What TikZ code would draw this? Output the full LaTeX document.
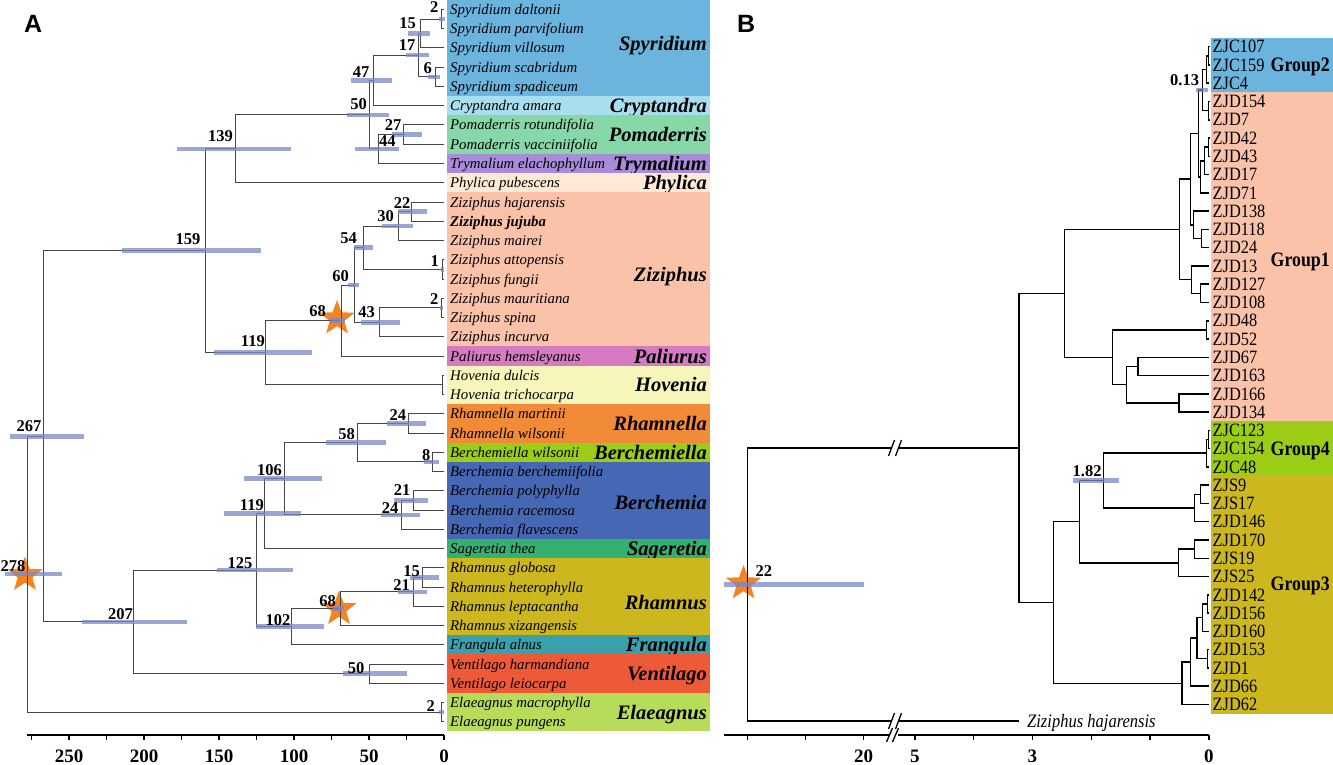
\documentclass[tikz,border=0pt]{standalone}
\usepackage{fontspec}
\setmainfont{Liberation Serif}
\newfontfamily\panelfont{Liberation Sans}
\newfontfamily\condserif[FakeStretch=0.87]{Liberation Serif}
\usetikzlibrary{shapes.geometric}
\definecolor{cSpy}{RGB}{107,180,222}
\definecolor{cCry}{RGB}{168,222,238}
\definecolor{cPom}{RGB}{134,216,168}
\definecolor{cTry}{RGB}{168,140,218}
\definecolor{cPhy}{RGB}{253,233,214}
\definecolor{cZiz}{RGB}{250,194,168}
\definecolor{cPal}{RGB}{214,122,196}
\definecolor{cHov}{RGB}{246,245,186}
\definecolor{cRha}{RGB}{241,139,55}
\definecolor{cBeb}{RGB}{155,204,22}
\definecolor{cBer}{RGB}{70,104,180}
\definecolor{cSag}{RGB}{52,177,112}
\definecolor{cRhm}{RGB}{204,184,30}
\definecolor{cFra}{RGB}{57,161,174}
\definecolor{cVen}{RGB}{238,90,55}
\definecolor{cEla}{RGB}{182,220,90}
\definecolor{barc}{RGB}{120,136,200}
\definecolor{starc}{RGB}{245,132,32}
\newcommand\mkclade[3]{\draw[br] (#1) |- (#2) (#1) |- (#3);}
\newcommand\mkcladeB[3]{\draw[brB] (#1) |- (#2) (#1) |- (#3);}
\begin{document}
\begin{tikzpicture}[x=1pt,y=-1pt,
  br/.style={draw=black!72,line width=1pt},
  brB/.style={draw=black,line width=1.5pt},
  hpd/.style={draw=barc,line width=4.5pt,opacity=0.75},
  sp/.style={anchor=base west,inner sep=0,font=\fontsize{14.8}{16}\selectfont\itshape,yshift=-5pt},
  gen/.style={anchor=base east,inner sep=0,font=\fontsize{20.5}{22}\selectfont\bfseries\itshape,yshift=-7pt},
  age/.style={anchor=base east,inner sep=0,font=\fontsize{16.5}{17}\selectfont\bfseries},
  tipB/.style={anchor=base west,inner sep=0,font=\condserif\fontsize{18.8}{19}\selectfont,yshift=-6.2pt},
  grp/.style={anchor=base east,inner sep=0,font=\condserif\fontsize{20.5}{21}\selectfont\bfseries,yshift=-6.8pt},
  axl/.style={anchor=base,inner sep=0,font=\fontsize{19}{20}\selectfont\bfseries},
  axis/.style={draw=black,line width=1.8pt},
  tick/.style={draw=black,line width=1.4pt},
  starnode/.style={star,star points=5,star point ratio=2.4,minimum size=37pt,inner sep=0,fill=starc,draw=none},
  panel/.style={anchor=base west,inner sep=0,font=\fontsize{25}{26}\selectfont\panelfont\bfseries}]
\useasboundingbox (0,0) rectangle (1333,765);

% ---------- bands panel A
\foreach \a/\b/\c/\g/\d in {1/5/cSpy/Spyridium/-4,6/6/cCry/Cryptandra/0,7/8/cPom/Pomaderris/0,9/9/cTry/Trymalium/0,10/10/cPhy/Phylica/0,11/18/cZiz/Ziziphus/5,19/19/cPal/Paliurus/0,20/21/cHov/Hovenia/0,22/23/cRha/Rhamnella/0,24/24/cBeb/Berchemiella/0,25/28/cBer/Berchemia/2,29/29/cSag/Sageretia/0,30/33/cRhm/Rhamnus/6,34/34/cFra/Frangula/0,35/36/cVen/Ventilago/0,37/38/cEla/Elaeagnus/0}{
  \fill[\c] (447,{9.5+(\a-1.5)*19.25}) rectangle (710,{9.5+(\b-0.5)*19.25});
  \node[gen] (g-\g) at (707,{9.5+((\a+\b)/2-1)*19.25+\d}) {\g};
}
% ---------- bands panel B
\fill[cSpy] (1211,37.6) rectangle (1333,92.4);
\fill[cZiz] (1211,92.4) rectangle (1333,421.2);
\fill[cBeb] (1211,421.2) rectangle (1333,476.0);
\fill[cRhm] (1211,476.0) rectangle (1333,713.6);
\node[grp] (grp2) at (1330,65) {Group2};
\node[grp] (grp1) at (1330,260) {Group1};
\node[grp] (grp4) at (1330,448.6) {Group4};
\node[grp] (grp3) at (1330,584) {Group3};

% ---------- tips panel A
\foreach \i/\s in {1/Spyridium daltonii,2/Spyridium parvifolium,3/Spyridium villosum,4/Spyridium scabridum,5/Spyridium spadiceum,6/Cryptandra amara,7/Pomaderris rotundifolia,8/Pomaderris vacciniifolia,9/Trymalium elachophyllum,10/Phylica pubescens,11/Ziziphus hajarensis,12/\textbf{Ziziphus jujuba},13/Ziziphus mairei,14/Ziziphus attopensis,15/Ziziphus fungii,16/Ziziphus mauritiana,17/Ziziphus spina,18/Ziziphus incurva,19/Paliurus hemsleyanus,20/Hovenia dulcis,21/Hovenia trichocarpa,22/Rhamnella martinii,23/Rhamnella wilsonii,24/Berchemiella wilsonii,25/Berchemia berchemiifolia,26/Berchemia polyphylla,27/Berchemia racemosa,28/Berchemia flavescens,29/Sageretia thea,30/Rhamnus globosa,31/Rhamnus heterophylla,32/Rhamnus leptacantha,33/Rhamnus xizangensis,34/Frangula alnus,35/Ventilago harmandiana,36/Ventilago leiocarpa,37/Elaeagnus macrophylla,38/Elaeagnus pungens}{
  \coordinate (a\i) at (444,{9.5+(\i-1)*19.25});
  \node[sp] (s\i) at (450,{9.5+(\i-1)*19.25}) {\s};
}
% ---------- tips panel B
\foreach \i/\s in {1/ZJC107,2/ZJC159,3/ZJC4,4/ZJD154,5/ZJD7,6/ZJD42,7/ZJD43,8/ZJD17,9/ZJD71,10/ZJD138,11/ZJD118,12/ZJD24,13/ZJD13,14/ZJD127,15/ZJD108,16/ZJD48,17/ZJD52,18/ZJD67,19/ZJD163,20/ZJD166,21/ZJD134,22/ZJC123,23/ZJC154,24/ZJC48,25/ZJS9,26/ZJS17,27/ZJD146,28/ZJD170,29/ZJS19,30/ZJS25,31/ZJD142,32/ZJD156,33/ZJD160,34/ZJD153,35/ZJD1,36/ZJD66,37/ZJD62}{
  \coordinate (b\i) at (1209,{46.7+(\i-1)*18.27});
  \node[tipB] (sb\i) at (1212.5,{46.7+(\i-1)*18.27}) {\s};
}
\coordinate (bhaj) at (1018.9,721);
\node[tipB,font=\condserif\fontsize{19}{19}\selectfont\itshape] (sbhaj) at (1027,721) {Ziziphus hajarensis};

% ---------- internal nodes panel A
\coordinate (n2a) at (441,19.1);
\coordinate (n15a) at (420,33.6);
\coordinate (n6) at (435,76.9);
\coordinate (n17) at (418,55.2);
\coordinate (n47) at (373.5,80.5);
\coordinate (n27) at (403.5,134.6);
\coordinate (n44) at (378,149.0);
\coordinate (n50a) at (369,114.8);
\coordinate (n139) at (235.5,148.8);
\coordinate (n22) at (411,211.6);
\coordinate (n30) at (398,226.0);
\coordinate (n1) at (442.5,269.4);
\coordinate (n54) at (363,247.7);
\coordinate (n2z) at (441,307.9);
\coordinate (n43) at (379.5,322.3);
\coordinate (n60) at (354,285.0);
\coordinate (n68z) at (341,320.5);
\coordinate (nHov) at (442.5,384.9);
\coordinate (n119a) at (265.5,352.7);
\coordinate (n159) at (205,250.7);
\coordinate (n24a) at (408,423.4);
\coordinate (n8) at (432.5,461.9);
\coordinate (n58) at (357.5,442.6);
\coordinate (n21b) at (413,500.4);
\coordinate (n24b) at (401,514.8);
\coordinate (n106) at (284.5,478.7);
\coordinate (n119b) at (264.5,513.6);
\coordinate (n15r) at (422,577.4);
\coordinate (n21r) at (413,591.8);
\coordinate (n68r) at (340,608.7);
\coordinate (n102) at (291.5,626.7);
\coordinate (n125) at (256.5,570.2);
\coordinate (n50v) at (369,673.6);
\coordinate (n207) at (133.5,621.9);
\coordinate (n267) at (43,436.3);
\coordinate (nE) at (441,712.1);
\coordinate (n278) at (27,574.2);

% ---------- internal nodes panel B
\coordinate (na) at (1208.7,55.8);
\coordinate (nb) at (1206.7,69.5);
\coordinate (nc) at (1208.5,110.6);
\coordinate (nd) at (1202.7,90.1);
\coordinate (ne) at (1208.7,147.2);
\coordinate (nf) at (1204.5,160.9);
\coordinate (ng) at (1200.7,176.9);
\coordinate (nh) at (1198.3,133.5);
\coordinate (ni) at (1201.7,238.5);
\coordinate (nj) at (1193.3,224.8);
\coordinate (nk) at (1190.5,179.2);
\coordinate (nl) at (1200.6,293.3);
\coordinate (nm) at (1191.7,279.6);
\coordinate (NA) at (1179.6,229.4);
\coordinate (n48) at (1206.6,329.9);
\coordinate (ND) at (1138,366.4);
\coordinate (NE) at (1179.2,403.0);
\coordinate (NC) at (1126.7,384.7);
\coordinate (NB) at (1112.6,357.3);
\coordinate (G12) at (1064.5,293.4);
\coordinate (G4a) at (1208.7,439.5);
\coordinate (G4) at (1206.6,453.2);
\coordinate (ns) at (1200.6,494.3);
\coordinate (NJ) at (1194.5,508.0);
\coordinate (NH) at (1103.7,480.6);
\coordinate (nt) at (1194.5,549.1);
\coordinate (NI) at (1178.4,562.8);
\coordinate (NF) at (1079.5,521.7);
\coordinate (m31) at (1207.5,603.9);
\coordinate (m32) at (1202.7,617.6);
\coordinate (m33) at (1207.5,658.7);
\coordinate (m34) at (1197,638.2);
\coordinate (m35) at (1190.7,662.2);
\coordinate (NG) at (1182,683.3);
\coordinate (G34) at (1053.6,602.5);
\coordinate (Big) at (1018.9,448);
\coordinate (Root) at (747.6,584.3);
\coordinate (brk1L) at (891.5,448);
\coordinate (brk1R) at (898.5,448);
\coordinate (brk2L) at (891.5,721);
\coordinate (brk2R) at (898.5,721);

% ---------- stars
\node[starnode] (st278) at (25,575) {};
\node[starnode] (st68z) at (337,318.5) {};
\node[starnode] (st68r) at (339,609) {};
\node[starnode] (st22) at (743.6,583.5) {};

% ---------- branches panel A
\mkclade{n2a}{a1}{a2}
\mkclade{n15a}{n2a}{a3}
\mkclade{n6}{a4}{a5}
\mkclade{n17}{n15a}{n6}
\mkclade{n47}{n17}{a6}
\mkclade{n27}{a7}{a8}
\mkclade{n44}{n27}{a9}
\mkclade{n50a}{n47}{n44}
\mkclade{n139}{n50a}{a10}
\mkclade{n22}{a11}{a12}
\mkclade{n30}{n22}{a13}
\mkclade{n1}{a14}{a15}
\mkclade{n54}{n30}{n1}
\mkclade{n2z}{a16}{a17}
\mkclade{n43}{n2z}{a18}
\mkclade{n60}{n54}{n43}
\mkclade{n68z}{n60}{a19}
\mkclade{nHov}{a20}{a21}
\mkclade{n119a}{n68z}{nHov}
\mkclade{n159}{n139}{n119a}
\mkclade{n24a}{a22}{a23}
\mkclade{n8}{a24}{a25}
\mkclade{n58}{n24a}{n8}
\mkclade{n21b}{a26}{a27}
\mkclade{n24b}{n21b}{a28}
\mkclade{n106}{n58}{n24b}
\mkclade{n119b}{n106}{a29}
\mkclade{n15r}{a30}{a31}
\mkclade{n21r}{n15r}{a32}
\mkclade{n68r}{n21r}{a33}
\mkclade{n102}{n68r}{a34}
\mkclade{n125}{n119b}{n102}
\mkclade{n50v}{a35}{a36}
\mkclade{n207}{n125}{n50v}
\mkclade{n267}{n159}{n207}
\mkclade{nE}{a37}{a38}
\mkclade{n278}{n267}{nE}

% ---------- branches panel B
\mkcladeB{na}{b1}{b2}
\mkcladeB{nb}{na}{b3}
\mkcladeB{nc}{b4}{b5}
\mkcladeB{nd}{nb}{nc}
\mkcladeB{ne}{b6}{b7}
\mkcladeB{nf}{ne}{b8}
\mkcladeB{ng}{nf}{b9}
\mkcladeB{nh}{nd}{ng}
\mkcladeB{ni}{b11}{b12}
\mkcladeB{nj}{b10}{ni}
\mkcladeB{nk}{nh}{nj}
\mkcladeB{nl}{b14}{b15}
\mkcladeB{nm}{b13}{nl}
\mkcladeB{NA}{nk}{nm}
\mkcladeB{n48}{b16}{b17}
\mkcladeB{ND}{b18}{b19}
\mkcladeB{NE}{b20}{b21}
\mkcladeB{NC}{ND}{NE}
\mkcladeB{NB}{n48}{NC}
\mkcladeB{G12}{NA}{NB}
\mkcladeB{G4a}{b22}{b23}
\mkcladeB{G4}{G4a}{b24}
\mkcladeB{ns}{b25}{b26}
\mkcladeB{NJ}{ns}{b27}
\mkcladeB{NH}{G4}{NJ}
\mkcladeB{nt}{b28}{b29}
\mkcladeB{NI}{nt}{b30}
\mkcladeB{NF}{NH}{NI}
\mkcladeB{m31}{b31}{b32}
\mkcladeB{m32}{m31}{b33}
\mkcladeB{m33}{b34}{b35}
\mkcladeB{m34}{m32}{m33}
\mkcladeB{m35}{m34}{b36}
\mkcladeB{NG}{m35}{b37}
\mkcladeB{G34}{NF}{NG}
\mkcladeB{Big}{G12}{G34}
\draw[brB] (Root) |- (brk1L);
\draw[brB] (brk1R) -- (Big);
\draw[brB] (Root) |- (brk2L);
\draw[brB] (brk2R) -- (bhaj);
\draw[brB,line width=1.3pt] (888.5,456) -- (894.5,440) (895.5,456) -- (901.5,440);
\draw[brB,line width=1.3pt] (888.5,729) -- (894.5,713) (895.5,729) -- (901.5,713);

% ---------- HPD bars
\foreach \n/\l/\r in {n139/176.8/291,n50a/347.4/388.5,n47/350.6/392,n44/355/398.8,n27/392/422,n15a/408/430,n17/405.6/428.5,n6/427.8/440,n2a/439/445,n159/122/261,n119a/213.5/312.4,n68z/330/345,n60/348/359,n54/353.5/373,n43/361.4/400,n30/382/413,n22/398/426.7,n1/441/444,n2z/439.5/443,n267/10/83.8,n278/4.5/62,n125/216.5/293,n119b/224/301,n106/243.7/321.6,n58/326/386,n24a/387/426,n8/423.5/438.5,n21b/394/428,n24b/380.5/420,n15r/410/439.4,n21r/397.7/426.7,n207/81.5/187,n102/256/324,n68r/333/344,n50v/343/406.8,nE/439/444,nd/1196/1207.7,NH/1073.4/1118.6,Root/724.2/863.5}{
  \draw[hpd] (\l,0 |- \n) -- (\r,0 |- \n);
}

% ---------- node ages panel A
\foreach \n/\t/\dx/\dy in {n2a/2/-2.5pt/7pt,n15a/15/-4pt/5pt,n17/17/-2.5pt/5pt,n6/6/-3pt/3pt,n47/47/-4pt/2.5pt,n27/27/-2pt/4.5pt,n50a/50/-2pt/5pt,n139/139/-2.5pt/7pt,n22/22/-0.5pt/3.6pt,n30/30/-4pt/4.3pt,n1/1/-3.5pt/3.4pt,n54/54/-6pt/4.7pt,n2z/2/-2.5pt/3pt,n43/43/-4.5pt/4.6pt,n60/60/-5pt/3.3pt,n68z/68/-15pt/4pt,n119a/119/-0.5pt/6pt,n159/159/-4.5pt/6.7pt,n24a/24/-1.7pt/2.7pt,n8/8/-2pt/1pt,n58/58/-2.5pt/3.6pt,n21b/21/-2.5pt/4.7pt,n24b/24/-2.4pt/1pt,n106/106/-2.5pt/3.7pt,n119b/119/-0.5pt/3.6pt,n15r/15/-2pt/1pt,n21r/21/-3pt/1pt,n68r/68/-4pt/2pt,n102/102/-1pt/1.7pt,n125/125/-4pt/2pt,n50v/50/-4.5pt/0.5pt,n207/207/-0.5pt/2pt,n267/267/-1.5pt/4.6pt,n278/278/-1.5pt/2.5pt,nE/2/-6pt/1pt}{
  \node[age,xshift=\dx,yshift=\dy] (l\n) at (\n) {\t};
}
\node[age,anchor=base west,xshift=1pt,yshift=2.3pt] (ln44) at (n44) {44};
% ---------- node ages panel B
\node[age,xshift=-3.5pt,yshift=5pt] (lnd) at (nd) {0.13};
\node[age,xshift=-2pt,yshift=4pt] (lNH) at (NH) {1.82};
\node[age,anchor=base west,xshift=7.7pt,yshift=8.3pt] (lRoot) at (Root) {22};

% ---------- axes
\coordinate (axA0) at (444,735);
\coordinate (axA1) at (27,735);
\draw[axis] (axA1) -- (axA0);
\foreach \v in {0,25,...,275}{\draw[tick] ({444-1.5*\v},735) -- ++(0,4.5);}
\foreach \v in {0,50,...,250}{\node[axl] (axl\v) at ({444-1.5*\v},762) {\v};}
\coordinate (axB1) at (724,735);
\coordinate (axB2) at (890,735);
\coordinate (axB3) at (898,735);
\coordinate (axB4) at (1209,735);
\draw[axis] (axB1) -- (axB2);
\draw[axis] (axB3) -- (axB4);
\foreach \x in {747.6,805.6,863.6,914.8,973.6,1032.4,1091.2,1150,1208.8}{\draw[tick] (\x,735) -- ++(0,4.5);}
\draw[line width=1.3pt] (886.5,742) -- (892.5,728) (892.5,742) -- (898.5,728);
\node[axl] (bx20) at (863.6,762) {20};
\node[axl] (bx5) at (914.8,762) {5};
\node[axl] (bx3) at (1032.4,762) {3};
\node[axl] (bx0) at (1208.8,762) {0};

% ---------- panel letters
\node[panel] (pA) at (24,33) {A};
\node[panel] (pB) at (737,33) {B};
\end{tikzpicture}
\end{document}
